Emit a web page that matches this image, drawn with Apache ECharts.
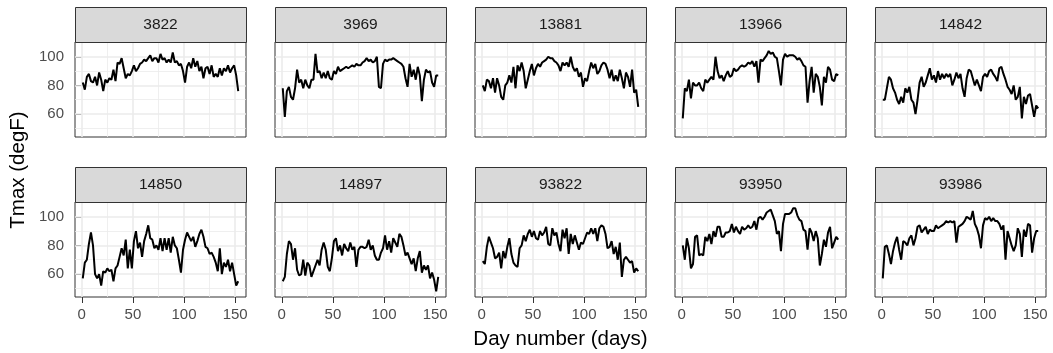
<!DOCTYPE html>
<html>
<head>
<meta charset="utf-8">
<script src="https://cdn.jsdelivr.net/npm/echarts@6/dist/echarts.min.js"></script>
<style>
  html, body { margin: 0; padding: 0; background: #fff; }
  #chart { width: 1053px; height: 353px; }
</style>
</head>
<body>
<div id="chart"></div>
<script>
// station ids, one panel each
const stations = ['3822', '3969', '13881', '13966', '14842', '14850', '14897', '93822', '93950', '93986'];

// day numbers (read every second day)
const days = [1, 3, 5, 7, 9, 11, 13, 15, 17, 19, 21, 23, 25, 27, 29, 31, 33, 35, 37, 39,
  41, 43, 45, 47, 49, 51, 53, 55, 57, 59, 61, 63, 65, 67, 69, 71, 73, 75, 77, 79,
  81, 83, 85, 87, 89, 91, 93, 95, 97, 99, 101, 103, 105, 107, 109, 111, 113, 115, 117, 119,
  121, 123, 125, 127, 129, 131, 133, 135, 137, 139, 141, 143, 145, 147, 149, 151, 153];

// Tmax (degF) per station
const s3822 = [82, 77, 86, 88, 83, 82, 86, 80, 89, 84, 76, 84, 82, 85, 84, 91, 83, 96, 95, 99,
  92, 85, 88, 87, 90, 94, 90, 92, 95, 96, 98, 97, 99, 101, 97, 99, 99, 96, 102, 98,
  99, 96, 98, 96, 103, 96, 97, 94, 95, 90, 82, 93, 96, 92, 99, 93, 97, 90, 93, 85,
  92, 93, 88, 94, 86, 88, 86, 92, 87, 92, 90, 94, 89, 92, 94, 87, 76];
const s3969 = [78, 58, 76, 79, 72, 70, 78, 91, 82, 84, 78, 84, 80, 78, 84, 84, 102, 89, 90, 85,
  89, 85, 90, 85, 84, 90, 88, 93, 90, 91, 92, 93, 92, 93, 94, 93, 95, 94, 94, 96,
  97, 99, 97, 98, 96, 97, 100, 79, 78, 95, 98, 97, 98, 98, 99, 98, 97, 96, 95, 93,
  85, 79, 95, 86, 91, 84, 93, 87, 69, 84, 91, 89, 90, 82, 79, 87, 87];
const s13881 = [80, 76, 84, 83, 78, 85, 75, 85, 80, 72, 70, 80, 82, 87, 82, 93, 78, 94, 90, 96,
  90, 78, 84, 90, 95, 87, 92, 95, 93, 96, 97, 98, 100, 99, 99, 97, 96, 94, 90, 96,
  94, 96, 93, 100, 93, 90, 92, 86, 89, 79, 85, 83, 90, 96, 92, 95, 88, 90, 94, 96,
  95, 91, 85, 91, 83, 87, 83, 91, 85, 78, 89, 86, 79, 91, 75, 77, 65];
const s13966 = [57, 78, 76, 84, 71, 82, 80, 80, 82, 78, 76, 84, 82, 84, 86, 84, 100, 90, 85, 87,
  83, 87, 90, 86, 87, 92, 90, 91, 93, 94, 93, 94, 96, 95, 97, 93, 97, 82, 98, 97,
  99, 101, 104, 102, 103, 100, 99, 90, 80, 98, 102, 100, 101, 101, 101, 100, 98, 99, 97, 94,
  93, 68, 83, 93, 75, 88, 86, 79, 66, 86, 82, 93, 91, 84, 83, 88, 87];
const s14842 = [70, 70, 78, 86, 84, 78, 75, 70, 67, 72, 68, 78, 75, 79, 70, 68, 60, 70, 82, 86,
  79, 82, 87, 92, 84, 87, 82, 90, 84, 88, 85, 88, 86, 88, 80, 84, 89, 85, 88, 78,
  72, 85, 91, 90, 85, 80, 84, 80, 76, 86, 88, 86, 90, 91, 88, 86, 83, 92, 93, 88,
  84, 79, 77, 74, 80, 70, 72, 79, 57, 72, 67, 73, 74, 66, 58, 66, 64];
const s14850 = [57, 68, 70, 81, 89, 80, 60, 57, 60, 52, 62, 61, 64, 62, 63, 55, 64, 66, 72, 78,
  73, 84, 64, 77, 64, 83, 90, 78, 82, 72, 83, 88, 94, 85, 84, 78, 80, 77, 85, 76,
  85, 77, 85, 75, 86, 80, 78, 70, 61, 77, 84, 89, 86, 83, 86, 79, 83, 88, 91, 86,
  79, 78, 74, 75, 72, 68, 62, 78, 60, 68, 65, 70, 62, 68, 60, 52, 55];
const s14897 = [55, 58, 74, 83, 81, 70, 78, 63, 59, 60, 70, 59, 68, 66, 58, 62, 66, 70, 66, 77,
  82, 77, 65, 62, 71, 83, 85, 76, 80, 73, 81, 78, 76, 82, 77, 79, 65, 77, 79, 79,
  78, 79, 84, 77, 80, 73, 70, 70, 75, 78, 87, 77, 83, 75, 85, 82, 79, 88, 86, 80,
  73, 75, 71, 67, 71, 62, 71, 76, 61, 66, 63, 66, 57, 61, 56, 48, 58];
const s93822 = [69, 67, 79, 86, 82, 78, 71, 72, 75, 64, 76, 71, 79, 85, 74, 68, 66, 65, 78, 80,
  87, 83, 88, 91, 86, 90, 85, 84, 90, 87, 89, 93, 81, 80, 92, 87, 89, 81, 76, 91,
  85, 92, 74, 88, 81, 87, 82, 77, 82, 81, 85, 89, 88, 92, 88, 92, 83, 92, 94, 93,
  88, 78, 79, 83, 74, 79, 70, 82, 58, 70, 72, 70, 68, 69, 61, 64, 62];
const s93950 = [80, 70, 85, 78, 64, 67, 86, 87, 73, 74, 73, 86, 83, 88, 81, 90, 86, 93, 93, 86,
  86, 89, 89, 90, 95, 89, 93, 90, 88, 93, 91, 92, 94, 92, 93, 97, 91, 99, 100, 98,
  100, 103, 104, 105, 101, 97, 88, 90, 76, 95, 102, 102, 102, 103, 106, 106, 101, 98, 97, 91,
  90, 77, 92, 89, 83, 90, 85, 66, 74, 84, 79, 89, 93, 78, 82, 86, 84];
const s93986 = [57, 79, 80, 74, 67, 76, 82, 86, 77, 70, 83, 82, 80, 85, 87, 80, 85, 93, 94, 89,
  91, 93, 88, 91, 90, 90, 94, 92, 93, 94, 95, 97, 96, 97, 96, 97, 82, 93, 94, 95,
  97, 100, 99, 98, 104, 95, 92, 87, 78, 94, 99, 98, 100, 97, 99, 97, 97, 95, 91, 94,
  70, 90, 85, 80, 76, 80, 92, 88, 72, 91, 86, 95, 94, 75, 85, 90, 90];

const tmax = [s3822, s3969, s13881, s13966, s14842, s14850, s14897, s93822, s93950, s93986];

// axis breaks
const xTicks = [0, 50, 100, 150];
const xMinor = [25, 75, 125];
const yTicks = [60, 80, 100];
const yMinor = [50, 70, 90];

const font = '"Liberation Sans", Arial, sans-serif';
const chart = echarts.init(document.getElementById('chart'), null, { renderer: 'canvas' });

const grids = [], xAxes = [], yAxes = [], series = [], graphics = [];
const panelW = 171, panelH = 95, stripH = 35;

stations.forEach((name, i) => {
  const col = i % 5, row = Math.floor(i / 5);
  const left = 75 + col * 200;
  const top = row === 0 ? 42 : 202;
  const bottomRow = row === 1, firstCol = col === 0;

  grids.push({
    left: left, top: top, width: panelW, height: panelH,
    show: true, backgroundColor: '#fff', borderColor: '#333333', borderWidth: 1
  });
  xAxes.push({
    type: 'value', gridIndex: i, min: -6.6, max: 160.6,
    axisLine: { show: false },
    axisTick: { show: bottomRow, length: 6, lineStyle: { color: '#333333', width: 1 }, customValues: xTicks },
    axisLabel: { show: bottomRow, margin: 10, color: '#4D4D4D', fontSize: 15, fontFamily: font, customValues: xTicks },
    splitLine: { show: false }
  });
  yAxes.push({
    type: 'value', gridIndex: i, min: 44, max: 110.3,
    axisLine: { show: false },
    axisTick: { show: firstCol, length: 6, lineStyle: { color: '#333333', width: 1 }, customValues: yTicks },
    axisLabel: { show: firstCol, margin: 11, color: '#4D4D4D', fontSize: 15, fontFamily: font, customValues: yTicks },
    splitLine: { show: false }
  });

  // grid lines drawn as mark lines so minor ones can be thinner
  const major = { color: '#EBEBEB', width: 1.6, type: 'solid' };
  const minor = { color: '#EBEBEB', width: 0.8, type: 'solid' };
  const lines = []
    .concat(xMinor.map(v => ({ xAxis: v, lineStyle: minor })))
    .concat(yMinor.map(v => ({ yAxis: v, lineStyle: minor })))
    .concat(xTicks.map(v => ({ xAxis: v, lineStyle: major })))
    .concat(yTicks.map(v => ({ yAxis: v, lineStyle: major })));
  series.push({
    type: 'line', xAxisIndex: i, yAxisIndex: i, data: [], z: 1, silent: true,
    markLine: {
      z: 1, silent: true, symbol: ['none', 'none'], animation: false,
      label: { show: false }, emphasis: { disabled: true },
      data: lines
    }
  });
  series.push({
    name: name, type: 'line', xAxisIndex: i, yAxisIndex: i, z: 6,
    data: days.map((d, k) => [d, tmax[i][k]]),
    showSymbol: false, symbol: 'none', silent: true, animation: false,
    lineStyle: { color: '#000', width: 2 }
  });

  // facet strip
  graphics.push({
    type: 'rect', left: left, top: top - stripH, z: 10,
    shape: { width: panelW, height: stripH },
    style: { fill: '#D9D9D9', stroke: '#333333', lineWidth: 1 }
  });
  graphics.push({
    type: 'text', x: left + panelW / 2, y: top - stripH / 2, z: 11,
    style: { text: name, fill: '#1A1A1A', fontSize: 15.5, fontFamily: font, align: 'center', verticalAlign: 'middle' }
  });
});

// axis titles
graphics.push({
  type: 'text', x: 560.5, y: 339, z: 11,
  style: { text: 'Day number (days)', fill: '#000', fontSize: 20.5, fontFamily: font, align: 'center', verticalAlign: 'middle' }
});
graphics.push({
  type: 'text', x: 18, y: 170, rotation: Math.PI / 2, z: 11,
  style: { text: 'Tmax (degF)', fill: '#000', fontSize: 20.5, fontFamily: font, align: 'center', verticalAlign: 'middle' }
});

chart.setOption({
  animation: false,
  backgroundColor: '#fff',
  textStyle: { fontFamily: font },
  grid: grids,
  xAxis: xAxes,
  yAxis: yAxes,
  series: series,
  graphic: graphics
});
</script>
</body>
</html>
